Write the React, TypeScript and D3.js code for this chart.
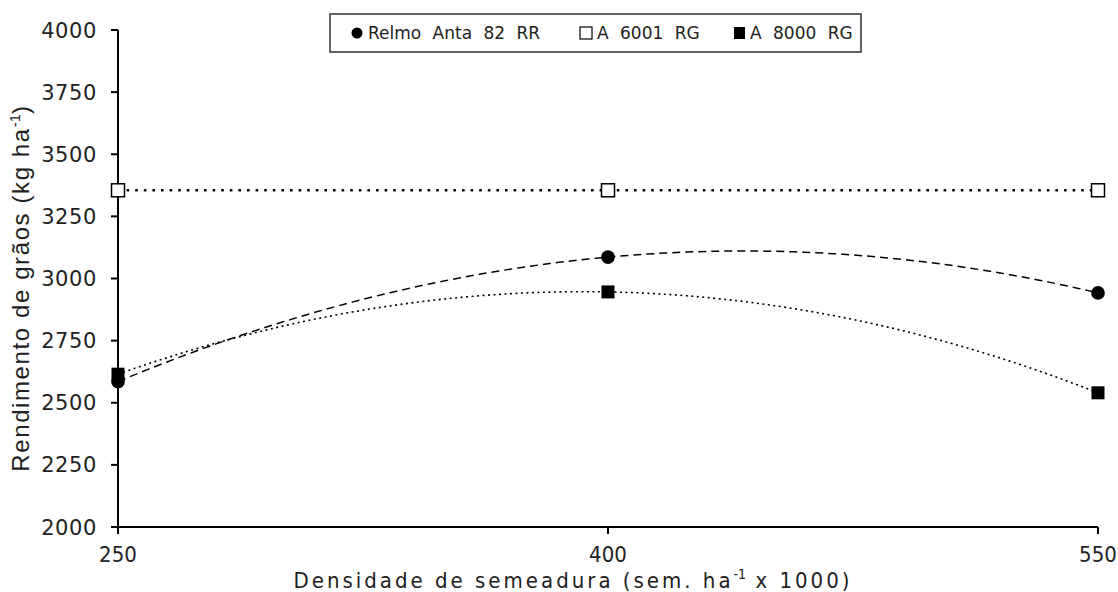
import React from "react";
import * as d3 from "d3";

const categories = [250, 400, 550];
const relmo = [2585, 3086, 2942];
const a6001 = [3355, 3355, 3355];
const a8000 = [2615, 2946, 2540];
const yTicks = [2000, 2250, 2500, 2750, 3000, 3250, 3500, 3750, 4000];
const legendLabels = ["Relmo Anta 82 RR", "A 6001 RG", "A 8000 RG"];

const W = 1118;
const H = 592;
const left = 118;
const right = 1098;
const top = 30;
const bottom = 527;

function quadPoints(xs: number[], ys: number[]) {
  // Quadratic trend through three points (Lagrange form)
  const [x0, x1, x2] = xs;
  const [y0, y1, y2] = ys;
  const f = (x: number) =>
    (y0 * (x - x1) * (x - x2)) / ((x0 - x1) * (x0 - x2)) +
    (y1 * (x - x0) * (x - x2)) / ((x1 - x0) * (x1 - x2)) +
    (y2 * (x - x0) * (x - x1)) / ((x2 - x0) * (x2 - x1));
  return d3.range(0, 101).map((i) => {
    const x = x0 + ((x2 - x0) * i) / 100;
    return [x, f(x)] as [number, number];
  });
}

export default function App() {
  const x = d3.scaleLinear().domain([250, 550]).range([left, right]);
  const y = d3.scaleLinear().domain([2000, 4000]).range([bottom, top]);
  const line = d3
    .line<[number, number]>()
    .x((d) => x(d[0]))
    .y((d) => y(d[1]));

  const series = [
    { name: legendLabels[0], values: relmo, dash: "8,5", width: 1.5 },
    { name: legendLabels[1], values: a6001, dash: "2.6,6", width: 2.6 },
    { name: legendLabels[2], values: a8000, dash: "2,3.5", width: 1.6 },
  ];

  const sq = 13;

  return (
    <svg
      width={W}
      height={H}
      style={{ position: "absolute", left: 0, top: 0, background: "#fff" }}
    >
      <rect x={0} y={0} width={W} height={H} fill="#fff" />
      {/* curves */}
      {series.map((s) => (
        <path
          key={s.name}
          d={line(quadPoints(categories, s.values)) || ""}
          fill="none"
          stroke="#000"
          strokeWidth={s.width}
          strokeDasharray={s.dash}
        />
      ))}
      {/* axes */}
      <line x1={left - 7} x2={right} y1={bottom} y2={bottom} stroke="#000" strokeWidth={2} />
      <line x1={left} x2={left} y1={top} y2={bottom + 7} stroke="#000" strokeWidth={2} />
      {yTicks.map((t) => (
        <g key={t}>
          <line x1={left - 7} x2={left} y1={y(t)} y2={y(t)} stroke="#000" strokeWidth={2} />
          <text
            x={97}
            y={y(t)}
            dy="0.36em"
            textAnchor="end"
            fontFamily="DejaVu Sans"
            fontSize={21}
            letterSpacing={0.6}
            fill="#222"
          >
            {t}
          </text>
        </g>
      ))}
      {categories.map((c) => (
        <g key={c}>
          <line x1={x(c)} x2={x(c)} y1={bottom} y2={bottom + 7} stroke="#000" strokeWidth={2} />
          <text
            x={x(c)}
            y={562}
            textAnchor="middle"
            fontFamily="DejaVu Sans Condensed, DejaVu Sans"
            fontStretch="condensed"
            fontSize={22}
            fill="#222"
          >
            {c}
          </text>
        </g>
      ))}
      {/* markers */}
      {categories.map((c, i) => (
        <g key={"m" + c}>
          <rect
            x={x(c) - sq / 2}
            y={y(a6001[i]) - sq / 2}
            width={sq}
            height={sq}
            fill="#fff"
            stroke="#000"
            strokeWidth={1.5}
          />
          <circle cx={x(c)} cy={y(relmo[i])} r={6.8} fill="#000" />
          <rect
            x={x(c) - sq / 2}
            y={y(a8000[i]) - sq / 2}
            width={sq}
            height={sq}
            fill="#000"
          />
        </g>
      ))}
      {/* axis titles */}
      <text
        x={573}
        y={588}
        textAnchor="middle"
        fontFamily="DejaVu Sans Condensed, DejaVu Sans"
        fontStretch="condensed"
        fontSize={22}
        letterSpacing={3}
        fill="#222"
      >
        Densidade de semeadura (sem. ha
        <tspan dy={-9} fontSize={14} letterSpacing={0}>-1</tspan>
        <tspan dy={9}> x 1000)</tspan>
      </text>
      <text
        transform={`translate(29,${288}) rotate(-90)`}
        textAnchor="middle"
        fontFamily="Liberation Sans, Arial"
        fontSize={24}
        letterSpacing={1.6}
        fill="#222"
      >
        Rendimento de grãos (kg ha
        <tspan dy={-9} fontSize={15} letterSpacing={0}>-1</tspan>
        <tspan dy={9}>)</tspan>
      </text>
      {/* legend */}
      <rect x={330} y={14} width={531} height={38} fill="#fff" stroke="#333" strokeWidth={1.5} />
      <circle cx={357} cy={33} r={5.5} fill="#000" />
      <text x={368} y={33} dy="0.36em" fontFamily="DejaVu Sans" fontSize={17} fill="#222" wordSpacing={6}>
        {legendLabels[0]}
      </text>
      <rect x={580} y={27} width={12} height={12} fill="#fff" stroke="#000" strokeWidth={1.2} />
      <text x={597} y={33} dy="0.36em" fontFamily="DejaVu Sans" fontSize={17} fill="#222" wordSpacing={6}>
        {legendLabels[1]}
      </text>
      <rect x={734} y={27} width={11} height={12} fill="#000" />
      <text x={750} y={33} dy="0.36em" fontFamily="DejaVu Sans" fontSize={17} fill="#222" wordSpacing={6}>
        {legendLabels[2]}
      </text>
    </svg>
  );
}
